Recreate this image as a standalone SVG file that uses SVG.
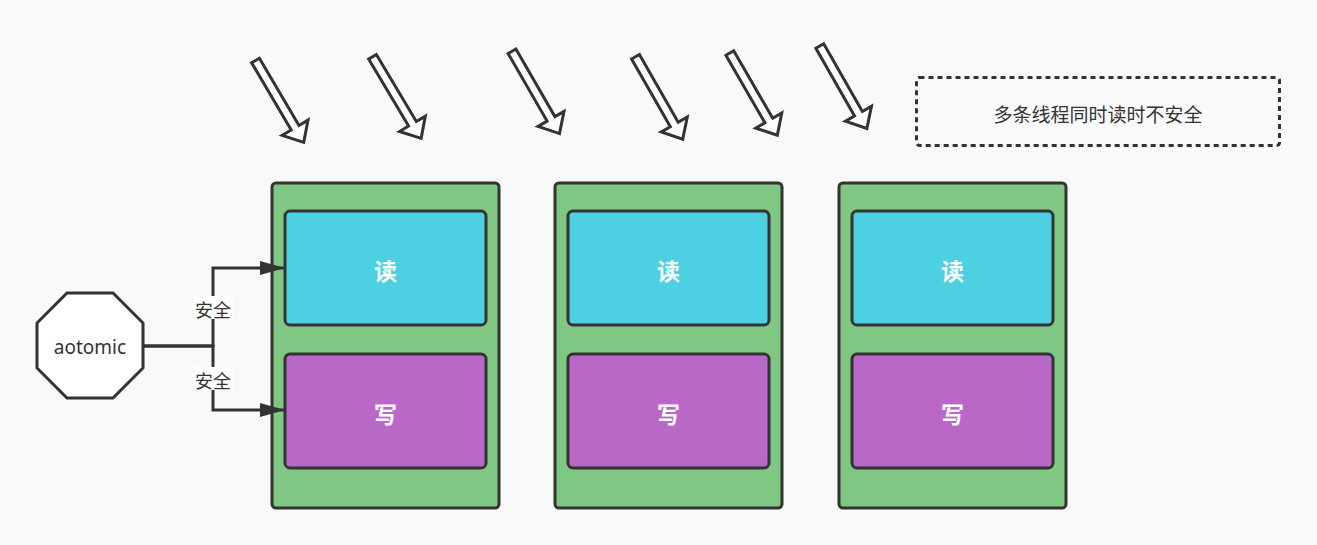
<svg xmlns="http://www.w3.org/2000/svg" width="1317" height="545" viewBox="0 0 1317 545">
  <defs>
    <style>
      .cont { fill: #81c784; stroke: #333; stroke-width: 3; }
      .read { fill: #4dd0e1; stroke: #333; stroke-width: 3; }
      .write { fill: #ba68c8; stroke: #333; stroke-width: 3; }
      .lbl { font-family: "Noto Sans CJK SC", "Liberation Sans", sans-serif; font-size: 23px; font-weight: bold; fill: #fff; text-anchor: middle; dominant-baseline: central; }
      .txt { font-family: "Noto Sans CJK SC", "Liberation Sans", sans-serif; font-size: 18px; fill: #333; text-anchor: middle; dominant-baseline: central; }
      .note { font-size: 19px; }
      .latin { font-family: "Noto Sans", "Liberation Sans", sans-serif; font-size: 19px; fill: #333; text-anchor: middle; dominant-baseline: central; }
      .bigarrow { fill: #fff; stroke: #333; stroke-width: 3; stroke-linejoin: miter; }
      .edge { fill: none; stroke: #333; stroke-width: 3; }
    </style>
    <polygon id="ba" points="0,-4.5 78,-4.5 78,-15 95,0 78,15 78,4.5 0,4.5"/>
    <marker id="ah" markerWidth="25" markerHeight="14" refX="25" refY="7" orient="auto" markerUnits="userSpaceOnUse">
      <path d="M0,0 L25,7 L0,14 Z" fill="#333"/>
    </marker>
  </defs>
  <rect width="1317" height="545" fill="#f9f9f9"/>

  <g id="threads">
    <use href="#ba" class="bigarrow" transform="translate(255.5,60.5) rotate(59.5)"/>
    <use href="#ba" class="bigarrow" transform="translate(372.5,56.8) rotate(59.2)"/>
    <use href="#ba" class="bigarrow" transform="translate(512,51.3) rotate(60)"/>
    <use href="#ba" class="bigarrow" transform="translate(635.5,56.8) rotate(60.2)"/>
    <use href="#ba" class="bigarrow" transform="translate(729.8,53) rotate(60)"/>
    <use href="#ba" class="bigarrow" transform="translate(819.8,46) rotate(60.3)"/>
  </g>

  <g id="note">
    <rect x="916.5" y="77.5" width="363" height="68" rx="3" fill="none" stroke="#333" stroke-width="3" stroke-dasharray="5 4"/>
    <text class="txt note" x="1098" y="113">多条线程同时读时不安全</text>
  </g>

  <g id="container1">
    <rect class="cont" x="272" y="183" width="227" height="325" rx="4"/>
  </g>
  <g id="read1">
    <rect class="read" x="285" y="211" width="201" height="114" rx="5"/>
    <text class="lbl" x="385.5" y="270">读</text>
  </g>
  <g id="write1">
    <rect class="write" x="285" y="354" width="201" height="114" rx="5"/>
    <text class="lbl" x="385.5" y="413">写</text>
  </g>

  <g id="container2">
    <rect class="cont" x="555" y="183" width="227" height="325" rx="4"/>
  </g>
  <g id="read2">
    <rect class="read" x="568" y="211" width="201" height="114" rx="5"/>
    <text class="lbl" x="668.5" y="270">读</text>
  </g>
  <g id="write2">
    <rect class="write" x="568" y="354" width="201" height="114" rx="5"/>
    <text class="lbl" x="668.5" y="413">写</text>
  </g>

  <g id="container3">
    <rect class="cont" x="839" y="183" width="227" height="325" rx="4"/>
  </g>
  <g id="read3">
    <rect class="read" x="852" y="211" width="201" height="114" rx="5"/>
    <text class="lbl" x="952.5" y="270">读</text>
  </g>
  <g id="write3">
    <rect class="write" x="852" y="354" width="201" height="114" rx="5"/>
    <text class="lbl" x="952.5" y="413">写</text>
  </g>

  <g id="aotomic">
    <polygon points="67,293 113,293 143,323 143,368 113,398 67,398 37,368 37,323" fill="#fff" stroke="#333" stroke-width="3"/>
    <text class="latin" x="90" y="347">aotomic</text>
  </g>

  <g id="connectors">
    <path class="edge" d="M143,346 H213 V268 H285" marker-end="url(#ah)"/>
    <path class="edge" d="M143,346 H213 V410 H285" marker-end="url(#ah)"/>
    <rect x="194" y="296" width="39" height="23" fill="#fff"/>
    <text class="txt" x="213" y="309">安全</text>
    <rect x="194" y="367" width="39" height="23" fill="#fff"/>
    <text class="txt" x="213" y="380">安全</text>
  </g>
</svg>
